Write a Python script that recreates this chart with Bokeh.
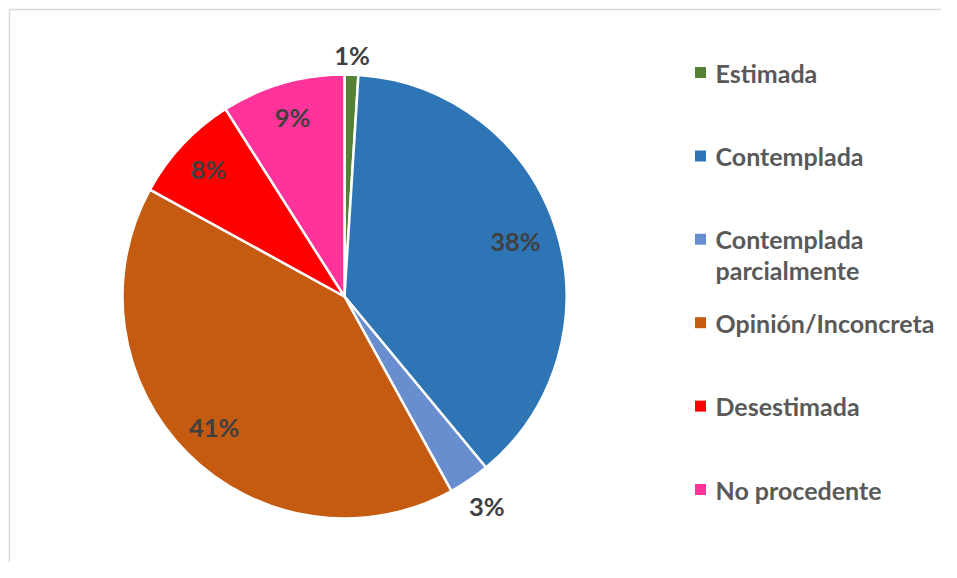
import numpy as np
from bokeh.plotting import figure
from bokeh.models import Range1d, ColumnDataSource
from bokeh.core.properties import value
from bokeh.embed import file_html
from bokeh.resources import INLINE

# ---- data ----
categories = ["Estimada", "Contemplada", "Contemplada parcialmente",
              "Opinión/Inconcreta", "Desestimada", "No procedente"]
percentages = [1, 38, 3, 41, 8, 9]
colors = ["#548235", "#2E75B6", "#698ED0", "#C55A11", "#FF0000", "#FF3399"]

# ---- style / layout ----
label_radius_factor = [1.09, 0.81, 1.14, 0.83, 0.84, 0.84]
legend_wrap = {"Contemplada parcialmente": ["Contemplada", "parcialmente"]}
CX, CY, R = 344, -296, 222
FONT = value("Lato")

W, H = 941, 562
p = figure(width=W, height=H, x_range=Range1d(0, W), y_range=Range1d(-H, 0),
           output_backend="svg", toolbar_location=None, min_border=0,
           background_fill_color="white", border_fill_color="white")
p.axis.visible = False
p.grid.visible = False
p.outline_line_color = None

# chart-area border (top and left visible)
p.segment(x0=[9, 9], y0=[-9, -9], x1=[9, 960], y1=[-600, -9],
          line_color="#D9D9D9", line_width=1.5)

vals = np.array(percentages, dtype=float)
frac = vals / vals.sum()
cum_end = np.cumsum(frac)
cum_start = cum_end - frac
start = np.pi / 2 - 2 * np.pi * cum_start
end = np.pi / 2 - 2 * np.pi * cum_end

src = ColumnDataSource(dict(start=start, end=end, color=colors, cat=categories))
p.wedge(x=CX, y=CY, radius=R, start_angle="start", end_angle="end",
        direction="clock", fill_color="color", line_color="white",
        line_width=2.5, source=src)

mid = (cum_start + cum_end) / 2
ang = np.pi / 2 - 2 * np.pi * mid
rf = np.array(label_radius_factor)
lx = CX + R * rf * np.cos(ang)
ly = CY + R * rf * np.sin(ang)
labels = [f"{v:.0f}%" for v in vals]
p.text(x=lx, y=ly, text=labels, text_font=FONT, text_font_style="bold",
       text_font_size="25.5px", text_color="#404040",
       text_align="center", text_baseline="middle")

# ---- legend ----
leg_x_sq, leg_x_txt = 700, 715
leg_y0, leg_step, line_gap = -72, -83.4, -31
sq_x, sq_y, sq_c = [], [], []
tx, ty, tt = [], [], []
for i, (cat, col) in enumerate(zip(categories, colors)):
    y = leg_y0 + i * leg_step
    sq_x.append(leg_x_sq); sq_y.append(y); sq_c.append(col)
    for j, line in enumerate(legend_wrap.get(cat, [cat])):
        tx.append(leg_x_txt); ty.append(y + j * line_gap); tt.append(line)
p.rect(x=sq_x, y=sq_y, width=11, height=11, fill_color=sq_c, line_color=None)
p.text(x=tx, y=ty, text=tt, text_font=FONT, text_font_style="bold",
       text_font_size="25px", text_color="#595959",
       text_align="left", text_baseline="middle")

open("out.html", "w").write(file_html(p, INLINE))
